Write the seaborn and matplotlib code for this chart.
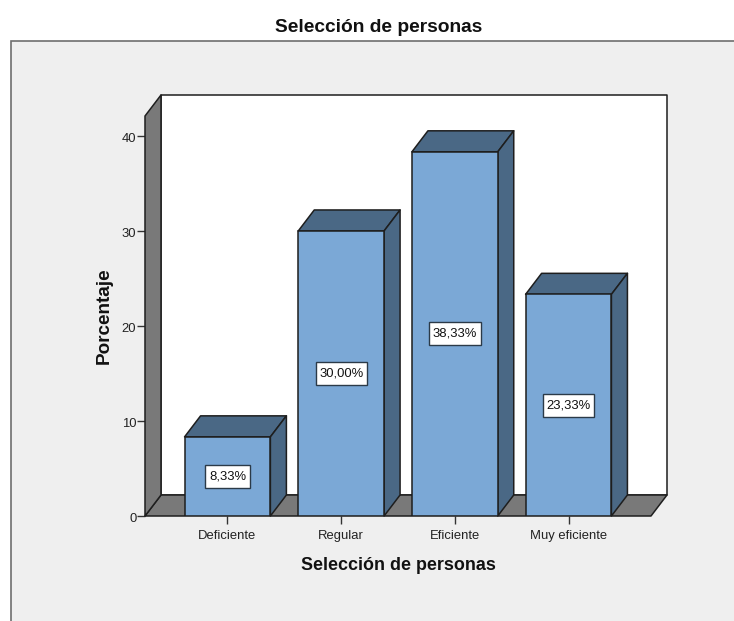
import matplotlib
matplotlib.use("Agg")
import matplotlib.pyplot as plt
from matplotlib.patches import Polygon, Rectangle
from matplotlib.transforms import ScaledTranslation
import pandas as pd
import seaborn as sns

categories = ["Deficiente", "Regular", "Eficiente", "Muy eficiente"]
percentages = [8.33, 30.00, 38.33, 23.33]
y_ticks = [0, 10, 20, 30, 40]
title_text = "Selección de personas"
x_title = "Selección de personas"
y_title = "Porcentaje"

FACE = "#7BA8D6"
SHADE = "#4A6885"
WALL = "#797979"
PANEL = "#EFEFEF"
INK = "#1E1E1E"

sns.set_theme(style="white")
plt.rcParams["font.family"] = ["Liberation Sans", "DejaVu Sans"]

W, H = 734, 621
fig = plt.figure(figsize=(W / 100, H / 100), dpi=100, facecolor="white")
fig.add_artist(Rectangle((10.5 / W, -0.01), 1.0, (H - 41) / H + 0.01, transform=fig.transFigure,
                         facecolor=PANEL, edgecolor="#6E6E6E", linewidth=1.2, zorder=-1))

ax = fig.add_axes([145 / W, (H - 516) / H, 506 / W, 400 / H])
ax.patch.set_visible(False)

frame = pd.DataFrame({"categoria": categories, "porcentaje": percentages})
sns.barplot(data=frame, x="categoria", y="porcentaje", ax=ax, width=0.755, color=FACE,
            saturation=1, edgecolor=INK, linewidth=1.1, zorder=3)

ax.set_xlim(-0.7256, 3.7256)
ax.set_ylim(0, 42.1)

# Pseudo-3D extrusion: the depth is a fixed offset in data units
sx = 113.7
sy = 9.5
dx = 16 / sx
dy = 21 / sy
x0, x1 = ax.get_xlim()
y1 = ax.get_ylim()[1]
box_h = 23 / sy
box_margin = 3.5
renderer = fig.canvas.get_renderer()


def face(points, color, z):
    ax.add_patch(Polygon(points, closed=True, facecolor=color, edgecolor=INK,
                         linewidth=1.1, zorder=z, clip_on=False, joinstyle="round"))


# Back wall, floor and left wall
face([(x0 + dx, dy), (x1 + dx, dy), (x1 + dx, y1 + dy), (x0 + dx, y1 + dy)], "white", 0.5)
face([(x0, 0), (x1, 0), (x1 + dx, dy), (x0 + dx, dy)], WALL, 0.6)
face([(x0, 0), (x0 + dx, dy), (x0 + dx, y1 + dy), (x0, y1)], WALL, 0.7)

# Top and side faces of each bar, plus its boxed value label
for bar, value in zip(ax.patches[:len(percentages)], percentages):
    left, right = bar.get_x(), bar.get_x() + bar.get_width()
    mid = (left + right) / 2
    face([(left, value), (right, value), (right + dx, value + dy), (left + dx, value + dy)], SHADE, 2)
    face([(right, 0), (right + dx, dy), (right + dx, value + dy), (right, value)], SHADE, 2)
    label = ax.text(mid, value / 2, f"{value:.2f}".replace(".", ",") + "%",
                    ha="center", va="center", fontsize=9.4, color="#111111", zorder=5)
    # The box hugs the label, so wider numbers get a wider box
    box_w = (label.get_window_extent(renderer).width + 2 * box_margin) / sx
    ax.add_patch(Rectangle((mid - box_w / 2, value / 2 - box_h / 2), box_w, box_h,
                           facecolor="white", edgecolor="#2B3A48", linewidth=1, zorder=4))

sns.despine(ax=ax, left=True, bottom=True)
ax.set_yticks(y_ticks)
ax.set_xticks(range(len(categories)))
ax.set_xticklabels(categories)
ax.tick_params(axis="both", which="major", left=True, bottom=True, length=5.8, width=1,
               color="#333333", labelsize=9.4, labelcolor="#222222", pad=0.5)
ax.tick_params(axis="x", pad=4)
# Value labels on the y axis sit slightly below their tick marks
nudge = ScaledTranslation(0, -1.8 / 100, fig.dpi_scale_trans)
for tick_label in ax.get_yticklabels():
    tick_label.set_transform(tick_label.get_transform() + nudge)
ax.set_xlabel("")
ax.set_ylabel("")

fig.text(379 / W, (H - 27.5) / H, title_text, ha="center", va="center", fontsize=13.8,
         fontweight="bold", color="#111111")
fig.text(398.5 / W, (H - 565) / H, x_title, ha="center", va="center", fontsize=12.9,
         fontweight="bold", color="#111111")
fig.text(104 / W, (H - 316) / H, y_title, ha="center", va="center", rotation=90, fontsize=13.6,
         fontweight="bold", color="#111111")

fig.savefig("out.png", dpi=100, facecolor="white")
